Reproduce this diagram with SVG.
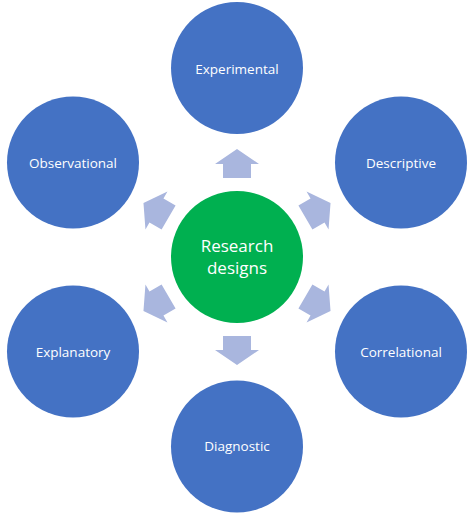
<svg xmlns="http://www.w3.org/2000/svg" width="474" height="515" viewBox="0 0 474 515">
  <style>
    .node { fill: #4472C4; }
    .center { fill: #00B050; }
    .lbl { fill: #FFFFFF; font-family: "Open Sans", "Liberation Sans", sans-serif; font-size: 13.5px; text-anchor: middle; }
    .big { font-size: 17px; }
    .arrow { fill: #A9B6DE; }
  </style>
  <defs>
    <path id="arr" d="M -14 -79 L 14 -79 L 14 -93 L 22 -93 L 0 -108 L -22 -93 L -14 -93 Z"/>
  </defs>
  <rect width="474" height="515" fill="#FFFFFF"/>
  <g id="connectors" class="arrow">
    <use href="#arr" transform="translate(237 257)"/>
    <use href="#arr" transform="translate(237 257) rotate(60)"/>
    <use href="#arr" transform="translate(237 257) rotate(120)"/>
    <use href="#arr" transform="translate(237 257) rotate(180)"/>
    <use href="#arr" transform="translate(237 257) rotate(240)"/>
    <use href="#arr" transform="translate(237 257) rotate(300)"/>
  </g>
  <g id="research-designs">
    <circle class="center" cx="237" cy="257" r="66"/>
    <text class="lbl big" x="237" y="252">Research</text>
    <text class="lbl big" x="237" y="273.5">designs</text>
  </g>
  <g id="experimental">
    <circle class="node" cx="237" cy="68" r="66"/>
    <text class="lbl" x="237" y="73.5">Experimental</text>
  </g>
  <g id="descriptive">
    <circle class="node" cx="401" cy="162.5" r="66"/>
    <text class="lbl" x="401" y="167.5">Descriptive</text>
  </g>
  <g id="correlational">
    <circle class="node" cx="401" cy="351.5" r="66"/>
    <text class="lbl" x="401" y="356.5">Correlational</text>
  </g>
  <g id="diagnostic">
    <circle class="node" cx="237" cy="446.5" r="66"/>
    <text class="lbl" x="237" y="451">Diagnostic</text>
  </g>
  <g id="explanatory">
    <circle class="node" cx="73" cy="351.5" r="66"/>
    <text class="lbl" x="73" y="356.5">Explanatory</text>
  </g>
  <g id="observational">
    <circle class="node" cx="73" cy="162.5" r="66"/>
    <text class="lbl" x="73" y="167.5">Observational</text>
  </g>
</svg>
